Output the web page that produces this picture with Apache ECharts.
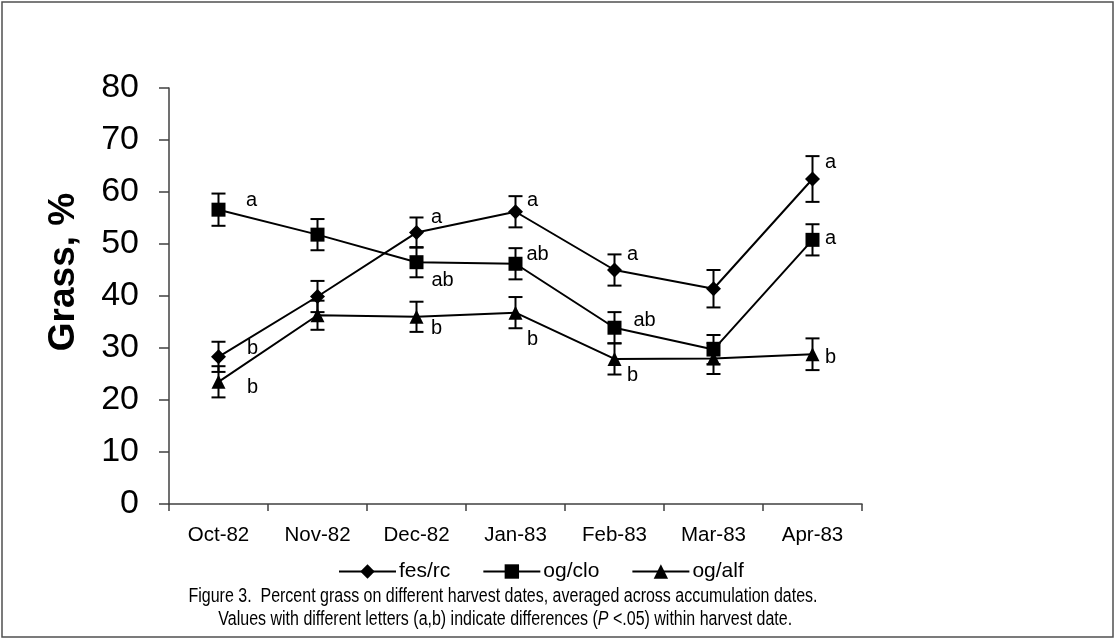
<!DOCTYPE html>
<html>
<head>
<meta charset="utf-8">
<script src="https://cdn.jsdelivr.net/npm/echarts@6/dist/echarts.min.js"></script>
<style>
  html, body { margin: 0; padding: 0; background: #fff; }
  #chart { width: 1117px; height: 640px; }
</style>
</head>
<body>
<div id="chart"></div>
<script>
// ---------- DATA ----------
const categories = ['Oct-82', 'Nov-82', 'Dec-82', 'Jan-83', 'Feb-83', 'Mar-83', 'Apr-83'];
const seriesNames = ['fes/rc', 'og/clo', 'og/alf'];
const fesValues = [28.3, 39.9, 52.2, 56.2, 45.0, 41.4, 62.5];
const fesErrors = [2.9, 3.0, 2.9, 3.0, 3.0, 3.6, 4.4];
const fesLetters = ['b', '', 'a', 'a', 'a', '', 'a'];
const cloValues = [56.6, 51.8, 46.5, 46.2, 33.9, 29.7, 50.8];
const cloErrors = [3.1, 3.0, 2.9, 3.0, 3.0, 2.8, 3.0];
const cloLetters = ['a', '', 'ab', 'ab', 'ab', '', 'a'];
const alfValues = [23.5, 36.3, 36.0, 36.8, 27.9, 28.0, 28.8];
const alfErrors = [3.0, 2.8, 2.9, 3.0, 3.0, 3.0, 3.05];
const alfLetters = ['b', '', 'b', 'b', 'b', '', 'b'];
const yMin = 0, yMax = 80, yStep = 10;
const yTitle = 'Grass, %';
const captionLine1 = 'Figure 3.  Percent grass on different harvest dates, averaged across accumulation dates.';
const captionLine2a = ' Values with different letters (a,b) indicate differences (';
const captionLine2P = 'P';
const captionLine2b = ' <.05) within harvest date.';

// ---------- STYLE ----------
const SANS = "'Liberation Sans', Arial, Helvetica, sans-serif";
const INK = '#000';
// letter label offsets (px) relative to the marker centre
const fesOffsets = [[34, -8], null, [20, -15], [17, -11], [18, -16], null, [18, -17]];
const cloOffsets = [[33, -9], null, [26, 18], [22, -9], [30, -7], null, [18, -1]];
const alfOffsets = [[34, 6], null, [20, 12], [17, 27], [18, 17], null, [18, 3]];

function lineData(values, letters, offsets) {
  return values.map((v, i) => ({
    value: v,
    label: letters[i] ? {
      show: true, formatter: letters[i], position: 'inside',
      offset: offsets[i], color: INK, fontFamily: SANS, fontSize: 20,
      align: 'center', verticalAlign: 'middle'
    } : { show: false }
  }));
}

function errData(values, errors) {
  return values.map((v, i) => [i, v, errors[i]]);
}

function renderErr(params, api) {
  const x = api.value(0);
  const v = api.value(1);
  const e = api.value(2);
  const top = api.coord([x, v + e]);
  const bot = api.coord([x, v - e]);
  const cap = 7;
  const style = { stroke: INK, lineWidth: 2 };
  return {
    type: 'group',
    children: [
      { type: 'line', shape: { x1: top[0], y1: top[1], x2: bot[0], y2: bot[1] }, style },
      { type: 'line', shape: { x1: top[0] - cap, y1: top[1], x2: top[0] + cap, y2: top[1] }, style },
      { type: 'line', shape: { x1: bot[0] - cap, y1: bot[1], x2: bot[0] + cap, y2: bot[1] }, style }
    ]
  };
}

function lineSeries(name, values, letters, offsets, symbol, size) {
  return {
    name, type: 'line', data: lineData(values, letters, offsets),
    symbol, symbolSize: size, showAllSymbol: true,
    lineStyle: { color: INK, width: 2 },
    itemStyle: { color: INK, borderWidth: 0 },
    emphasis: { disabled: true },
    animation: false, z: 3
  };
}

function errSeries(values, errors) {
  return {
    type: 'custom', data: errData(values, errors), renderItem: renderErr,
    animation: false, silent: true, z: 2
  };
}

const chart = echarts.init(document.getElementById('chart'), null, { renderer: 'canvas' });
chart.setOption({
  backgroundColor: '#fff',
  animation: false,
  grid: { left: 169, top: 88, width: 693, height: 416, containLabel: false },
  xAxis: {
    type: 'category', data: categories, boundaryGap: true,
    axisLine: { show: true, lineStyle: { color: '#404040', width: 1.5 } },
    axisTick: { show: true, length: 7, interval: 0, lineStyle: { color: '#404040', width: 1.5 } },
    axisLabel: { color: INK, fontFamily: SANS, fontSize: 20.5, margin: 21, interval: 0 },
    splitLine: { show: false }
  },
  yAxis: {
    type: 'value', min: yMin, max: yMax, interval: yStep,
    axisLine: { show: true, lineStyle: { color: '#404040', width: 1.5 } },
    axisTick: { show: true, length: 10, lineStyle: { color: '#404040', width: 1.5 } },
    axisLabel: { color: INK, fontFamily: SANS, fontSize: 34, margin: 30 },
    splitLine: { show: false }
  },
  legend: {
    data: seriesNames, left: 333, top: 556,
    itemWidth: 57, itemHeight: 18, itemGap: 32,
    lineStyle: { width: 2 },
    textStyle: { color: INK, fontFamily: SANS, fontSize: 21, padding: [0, 0, 0, -2] },
    selectedMode: false
  },
  series: [
    errSeries(fesValues, fesErrors),
    errSeries(cloValues, cloErrors),
    errSeries(alfValues, alfErrors),
    lineSeries(seriesNames[0], fesValues, fesLetters, fesOffsets, 'diamond', [15, 15]),
    lineSeries(seriesNames[1], cloValues, cloLetters, cloOffsets, 'rect', [14, 14]),
    lineSeries(seriesNames[2], alfValues, alfLetters, alfOffsets, 'triangle', [14, 14])
  ],
  graphic: [
    { type: 'rect', shape: { x: 2, y: 2, width: 1111, height: 635 },
      style: { fill: null, stroke: '#505050', lineWidth: 1.5 }, silent: true },
    { type: 'text', x: 64, y: 272, rotation: Math.PI / 2,
      style: { text: yTitle, fill: INK, font: 'bold 37px ' + SANS, textAlign: 'center', textVerticalAlign: 'middle' } },
    { type: 'text', x: 503, y: 597, scaleX: 0.82,
      style: { text: captionLine1, fill: INK, font: '19.5px ' + SANS, textAlign: 'center', textVerticalAlign: 'middle' } },
    { type: 'text', x: 503, y: 620, scaleX: 0.82,
      style: {
        text: '{n|' + captionLine2a + '}{i|' + captionLine2P + '}{n|' + captionLine2b + '}',
        textAlign: 'center', textVerticalAlign: 'middle',
        rich: {
          n: { fill: INK, fontFamily: SANS, fontSize: 19.5 },
          i: { fill: INK, fontFamily: SANS, fontSize: 19.5, fontStyle: 'italic' }
        }
      } }
  ]
});
</script>
</body>
</html>
